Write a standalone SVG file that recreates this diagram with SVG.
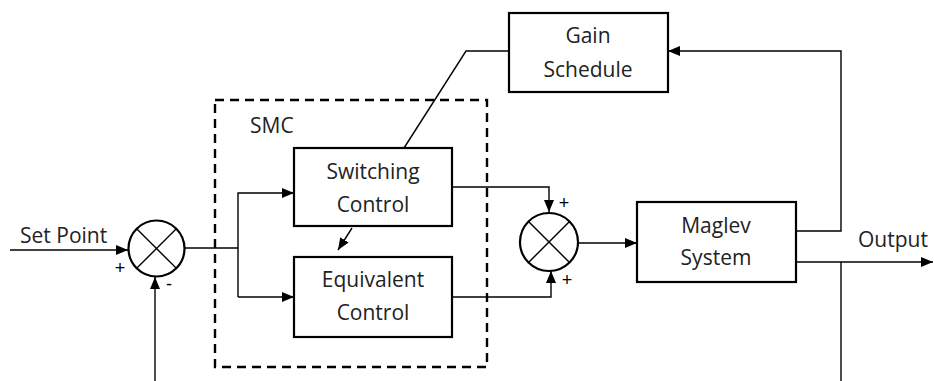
<svg xmlns="http://www.w3.org/2000/svg" width="934" height="381" viewBox="0 0 934 381">
<style>
.box{fill:#fff;stroke:#000;stroke-width:2.2}
.ln{fill:none;stroke:#000;stroke-width:1.4}
.sum{fill:#fff;stroke:#000;stroke-width:2.2}
.t{font-family:"Open Sans","Liberation Sans",sans-serif;font-size:21px;fill:#222}
.s{font-family:"Liberation Sans","Open Sans",sans-serif;font-size:18px;fill:#000}
</style>
<defs>
<marker id="ah" viewBox="0 0 12 10" refX="12" refY="5" markerWidth="12" markerHeight="10" markerUnits="userSpaceOnUse" orient="auto">
<path d="M0,0 L12,5 L0,10 Z" fill="#000"/>
</marker>
</defs>
<g id="smc">
<rect x="215" y="100" width="272" height="267" fill="none" stroke="#000" stroke-width="2.4" stroke-dasharray="9,6"/>
<text class="t" x="250" y="133">SMC</text>
</g>
<g id="connectors">
<line class="ln" x1="10" y1="250" x2="128" y2="250" marker-end="url(#ah)"/>
<line class="ln" x1="155" y1="381" x2="155" y2="277" marker-end="url(#ah)"/>
<polyline class="ln" points="185,248 238,248"/>
<polyline class="ln" points="238,297 238,193 294,193" marker-end="url(#ah)"/>
<polyline class="ln" points="238,297 294,297" marker-end="url(#ah)"/>
<line class="ln" x1="352" y1="228" x2="338" y2="250" marker-end="url(#ah)"/>
<polyline class="ln" points="404,148 466,51 509,51"/>
<polyline class="ln" points="452,187 549,187 549,212" marker-end="url(#ah)"/>
<polyline class="ln" points="448,297 551,297 551,271" marker-end="url(#ah)"/>
<line class="ln" x1="578" y1="243" x2="637" y2="243" marker-end="url(#ah)"/>
<polyline class="ln" points="796,231 841,231 841,51 668,51" marker-end="url(#ah)"/>
<line class="ln" x1="796" y1="262" x2="933" y2="262" marker-end="url(#ah)"/>
<line class="ln" x1="841" y1="262" x2="841" y2="381"/>
</g>
<g id="sum1">
<circle class="sum" cx="156.5" cy="248.5" r="28"/>
<line class="ln" x1="136.7" y1="228.7" x2="176.3" y2="268.3" stroke-width="2"/>
<line class="ln" x1="176.3" y1="228.7" x2="136.7" y2="268.3" stroke-width="2"/>
<text class="s" x="120" y="274" text-anchor="middle">+</text>
<text class="s" x="169" y="290" text-anchor="middle">-</text>
</g>
<g id="sum2">
<circle class="sum" cx="549" cy="242" r="29"/>
<line class="ln" x1="528.5" y1="221.5" x2="569.5" y2="262.5" stroke-width="2"/>
<line class="ln" x1="569.5" y1="221.5" x2="528.5" y2="262.5" stroke-width="2"/>
<text class="s" x="564" y="209" text-anchor="middle">+</text>
<text class="s" x="567" y="286" text-anchor="middle">+</text>
</g>
<g id="switching">
<rect class="box" x="294" y="148" width="158" height="78"/>
<text class="t" x="373" y="179" text-anchor="middle">Switching</text>
<text class="t" x="373" y="212" text-anchor="middle">Control</text>
</g>
<g id="equivalent">
<rect class="box" x="294" y="257" width="158" height="80"/>
<text class="t" x="373" y="287" text-anchor="middle">Equivalent</text>
<text class="t" x="373" y="320" text-anchor="middle">Control</text>
</g>
<g id="gain">
<rect class="box" x="509" y="13" width="159" height="79"/>
<text class="t" x="588" y="43" text-anchor="middle">Gain</text>
<text class="t" x="588" y="77" text-anchor="middle">Schedule</text>
</g>
<g id="maglev">
<rect class="box" x="637" y="202" width="159" height="80"/>
<text class="t" x="716" y="233" text-anchor="middle">Maglev</text>
<text class="t" x="716" y="265" text-anchor="middle">System</text>
</g>
<text class="t" x="20" y="243">Set Point</text>
<text class="t" x="858" y="247">Output</text>
</svg>
